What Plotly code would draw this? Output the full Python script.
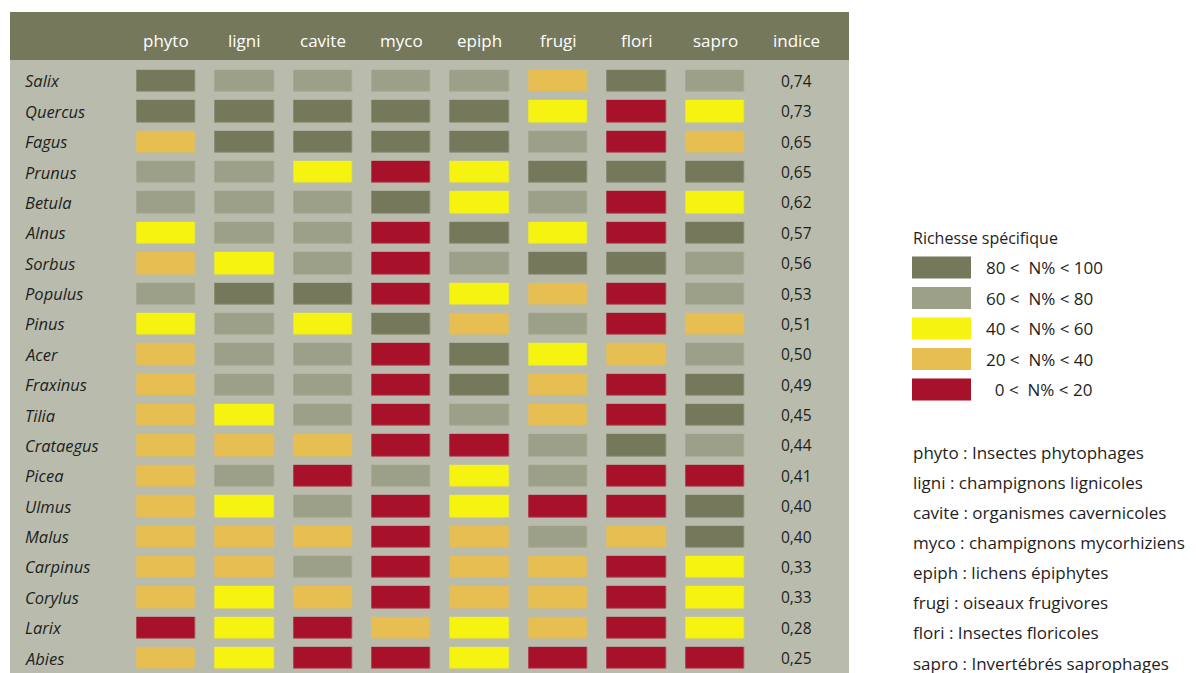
import plotly.graph_objects as go

W, H = 1196, 673
OFF = 8  # page body margin

groups = ["phyto", "ligni", "cavite", "myco", "epiph", "frugi", "flori", "sapro"]
species = ["Salix", "Quercus", "Fagus", "Prunus", "Betula", "Alnus", "Sorbus", "Populus",
           "Pinus", "Acer", "Fraxinus", "Tilia", "Crataegus", "Picea", "Ulmus", "Malus",
           "Carpinus", "Corylus", "Larix", "Abies"]
indice = ["0,74", "0,73", "0,65", "0,65", "0,62", "0,57", "0,56", "0,53", "0,51", "0,50",
          "0,49", "0,45", "0,44", "0,41", "0,40", "0,40", "0,33", "0,33", "0,28", "0,25"]

# classes: 5 = 80-100, 4 = 60-80, 3 = 40-60, 2 = 20-40, 1 = 0-20
classes = [
    [5, 4, 4, 4, 4, 2, 5, 4],  # Salix
    [5, 5, 5, 5, 5, 3, 1, 3],  # Quercus
    [2, 5, 5, 5, 5, 4, 1, 2],  # Fagus
    [4, 4, 3, 1, 3, 5, 5, 5],  # Prunus
    [4, 4, 4, 5, 3, 4, 1, 3],  # Betula
    [3, 4, 4, 1, 5, 3, 1, 5],  # Alnus
    [2, 3, 4, 1, 4, 5, 5, 4],  # Sorbus
    [4, 5, 5, 1, 3, 2, 1, 4],  # Populus
    [3, 4, 3, 5, 2, 4, 1, 2],  # Pinus
    [2, 4, 4, 1, 5, 3, 2, 4],  # Acer
    [2, 4, 4, 1, 5, 2, 1, 5],  # Fraxinus
    [2, 3, 4, 1, 4, 2, 1, 5],  # Tilia
    [2, 2, 2, 1, 1, 4, 5, 4],  # Crataegus
    [2, 4, 1, 4, 3, 4, 1, 1],  # Picea
    [2, 3, 4, 1, 3, 1, 1, 5],  # Ulmus
    [2, 2, 2, 1, 2, 4, 2, 5],  # Malus
    [2, 2, 4, 1, 2, 2, 1, 3],  # Carpinus
    [2, 3, 2, 1, 2, 2, 1, 3],  # Corylus
    [1, 3, 1, 2, 3, 2, 1, 3],  # Larix
    [2, 3, 1, 1, 3, 1, 1, 1],  # Abies
]

legend_title = "Richesse spécifique"
legend_labels = ["80 <  N% < 100", "60 <  N% < 80", "40 <  N% < 60", "20 <  N% < 40", "&nbsp;&nbsp;0 <  N% < 20"]
descriptions = ["phyto : Insectes phytophages", "ligni : champignons lignicoles",
                "cavite : organismes cavernicoles", "myco : champignons mycorhiziens",
                "epiph : lichens épiphytes", "frugi : oiseaux frugivores",
                "flori : Insectes floricoles", "sapro : Invertébrés saprophages"]

C_DARK = "#75785a"
C_GRAY = "#9da088"
C_YEL = "#f7f310"
C_ORA = "#e6be52"
C_RED = "#a8112a"
PANEL = "#b9bcac"
TXT = "#1e1e1e"
class_colors = {1: C_RED, 2: C_ORA, 3: C_YEL, 4: C_GRAY, 5: C_DARK}
legend_colors = [C_DARK, C_GRAY, C_YEL, C_ORA, C_RED]

FONT = "Open Sans"

colorscale = []
for k in range(1, 6):
    colorscale.append([(k - 1) / 5, class_colors[k]])
    colorscale.append([k / 5, class_colors[k]])

def px(x):
    return (x - OFF) / W

def py(y):
    return 1 - (y - OFF) / H

fig = go.Figure()
fig.add_trace(go.Heatmap(
    z=classes, x=groups, y=species, zmin=0.5, zmax=5.5,
    colorscale=colorscale, showscale=False, xgap=19.4, ygap=8.4,
    hoverinfo="skip",
))

shapes = [
    dict(type="rect", xref="paper", yref="paper", x0=px(10), x1=px(849), y0=py(690), y1=py(12),
         fillcolor=PANEL, line_width=0, layer="below"),
    dict(type="rect", xref="paper", yref="paper", x0=px(10), x1=px(849), y0=py(60), y1=py(12),
         fillcolor=C_DARK, line_width=0, layer="below"),
]

annotations = []
for g in groups:
    annotations.append(dict(x=g, xref="x", y=py(40), yref="paper", text=g, showarrow=False,
                            font=dict(family=FONT, size=17, color="white"), xanchor="center", yanchor="middle"))
annotations.append(dict(x=px(797), xref="paper", y=py(40), yref="paper", text="indice", showarrow=False,
                        font=dict(family=FONT, size=17, color="white"), xanchor="center", yanchor="middle"))
for s, v in zip(species, indice):
    annotations.append(dict(x=px(23), xref="paper", y=s, yref="y", text="<i>%s</i>" % s, showarrow=False,
                            font=dict(family=FONT, size=16.5, color=TXT), xanchor="left", yanchor="middle"))
    annotations.append(dict(x=px(796), xref="paper", y=s, yref="y", text=v, showarrow=False,
                            font=dict(family=FONT, size=15.5, color=TXT), xanchor="center", yanchor="middle"))

annotations.append(dict(x=px(911), xref="paper", y=py(238), yref="paper", text=legend_title, showarrow=False,
                        font=dict(family=FONT, size=16, color=TXT), xanchor="left", yanchor="middle"))
for i, (lab, col) in enumerate(zip(legend_labels, legend_colors)):
    yc = 267.5 + i * 30.5
    shapes.append(dict(type="rect", xref="paper", yref="paper", x0=px(912), x1=px(971),
                       y0=py(yc + 11), y1=py(yc - 11), fillcolor=col, line_width=0))
    annotations.append(dict(x=px(984), xref="paper", y=py(yc), yref="paper", text=lab,
                            showarrow=False, font=dict(family=FONT, size=17, color=TXT),
                            xanchor="left", yanchor="middle"))
for i, d in enumerate(descriptions):
    yc = 452 + i * 30.15
    annotations.append(dict(x=px(911), xref="paper", y=py(yc), yref="paper", text=d, showarrow=False,
                            font=dict(family=FONT, size=17, color=TXT), xanchor="left", yanchor="middle"))

fig.update_layout(
    width=W, height=H, margin=dict(l=0, r=0, t=0, b=0),
    paper_bgcolor="white", plot_bgcolor="rgba(0,0,0,0)",
    xaxis=dict(domain=[px(127.3), px(754.2)], showticklabels=False, showgrid=False, zeroline=False,
               fixedrange=True),
    yaxis=dict(domain=[py(673.2), py(65.8)], autorange="reversed", showticklabels=False,
               showgrid=False, zeroline=False, fixedrange=True),
    shapes=shapes, annotations=annotations, showlegend=False,
)

fig.write_html("out.html")
